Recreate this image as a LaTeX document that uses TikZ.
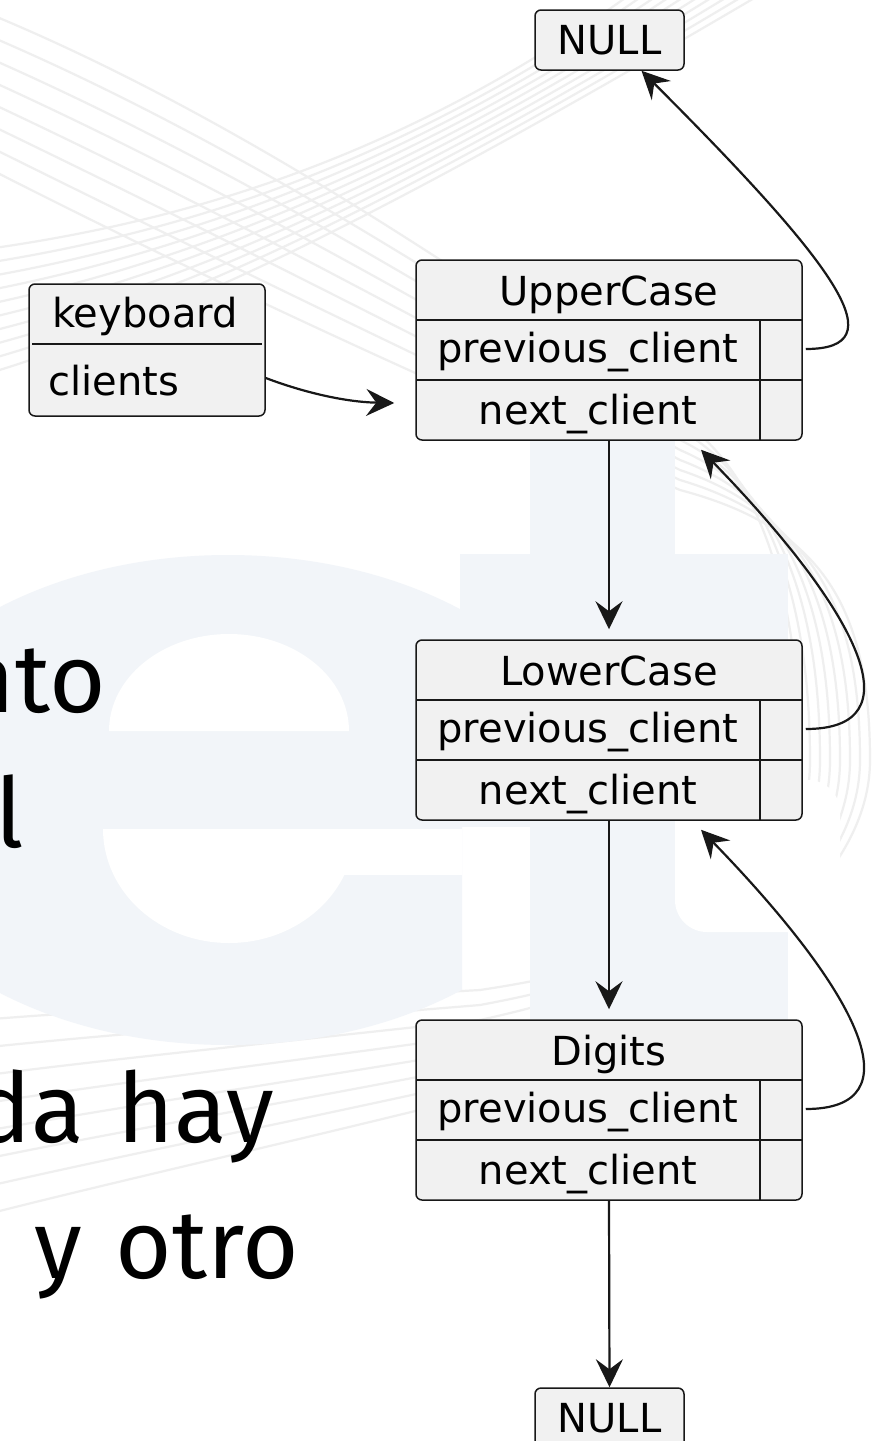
\documentclass[tikz,border=0pt]{standalone}
\usepackage{fontspec}
\setmainfont{DejaVu Sans}
\newfontfamily\slidefont[WordSpace=1.3]{Fira Sans}
\usetikzlibrary{arrows.meta}
\definecolor{boxfill}{HTML}{F1F1F1}
\definecolor{boxline}{HTML}{181818}
\definecolor{logoc}{HTML}{F2F5F9}
\definecolor{swirlc}{HTML}{EFEFEF}

% one linked-list client: name, top edge, title
\newcommand\clientobj[3]{%
  \node[objframe] (#1) at (609,#2+90) {};
  \draw[sep] (416,#2+60) -- (802,#2+60);
  \draw[sep] (416,#2+120) -- (802,#2+120);
  \draw[sep] (760,#2+60) -- (760,#2+180);
  \node[lbl] (#1-title) at (609,#2+45) {#3};
  \node[lbl] (#1-prev) at (588,#2+102) {previous\_client};
  \node[lbl] (#1-next) at (588,#2+164) {next\_client};
}

\begin{document}
\begin{tikzpicture}[x=1pt,y=-1pt,
  objframe/.style={draw=boxline, fill=boxfill, line width=1.5pt, rounded corners=6pt,
    inner sep=0pt, minimum width=386pt, minimum height=180pt},
  nullframe/.style={draw=boxline, fill=boxfill, line width=1.5pt, rounded corners=6pt,
    inner sep=0pt, minimum width=149pt, minimum height=60pt},
  kbframe/.style={draw=boxline, fill=boxfill, line width=1.5pt, rounded corners=6pt,
    inner sep=0pt, minimum width=236pt, minimum height=132pt},
  lbl/.style={anchor=base, inner sep=0pt, text=black, font=\fontsize{40}{48}\selectfont},
  sep/.style={draw=boxline, line width=2.6pt},
  thinsep/.style={draw=boxline, line width=1.4pt},
  arr/.style={draw=boxline, line width=2.2pt, -{Stealth[length=28pt,width=27pt,inset=10pt]}},
  slide/.style={anchor=base east, inner sep=0pt, text=black, font=\slidefont\fontsize{97}{116}\selectfont},
  swirl/.style={draw=swirlc, line width=2.2pt},
]
\useasboundingbox (0,0) rectangle (873,1441);

% ---- slide background ----
\begin{scope}
  \clip (0,0) rectangle (873,1441);
  \fill[white] (0,0) rectangle (873,1441);
  % swirl lines
  \foreach \k in {0,...,9} {
    \draw[swirl] (-20,250+14*\k) .. controls (200,220+10*\k) and (420,150+5*\k) .. (650+15*\k,-20);
  }
  \foreach \k in {0,...,7} {
    \draw[swirl] (-20,10+22*\k) .. controls (250,120+26*\k) and (500,300+16*\k) .. (680,420+10*\k)
      .. controls (760+8*\k,470+8*\k) and (800+10*\k,600) .. (800+10*\k,760)
      .. controls (800+10*\k,900) and (680,960+8*\k) .. (480,990+15*\k)
      .. controls (300,1000+20*\k) and (100,1010+25*\k) .. (-20,1020+28*\k);
  }
  % "e" of the logo
  \begin{scope}
    \clip (-10,0) rectangle (462,1441);
    \fill[logoc] (228,800) ellipse [x radius=370pt, y radius=245pt];
  \end{scope}
  \fill[white] (109,731) arc[start angle=180, end angle=0, x radius=120pt, y radius=97pt] -- cycle;
  \fill[white] (103,829) arc[start angle=180, end angle=360, x radius=126pt, y radius=114pt] -- cycle;
  \fill[white] (229,829) rectangle (462,875);
  % "t" of the logo
  \fill[logoc] (530,300) rectangle (675,1190);
  \fill[logoc] (460,554) rectangle (788,827);
  \fill[logoc] (530,827) rectangle (788,1190);
  \fill[white, rounded corners=32pt] (675,780) rectangle (840,932);
  % slide text
  \node[slide] (s1) at (106,712) {nto};
  \node[slide] (s2) at (24,847) {l};
  \node[slide] (s3) at (274,1142) {da hay};
  \node[slide] (s4) at (299,1278) {o y otro};
\end{scope}

% ---- objects ----
\node[nullframe] (N1) at (609.5,40) {};
\node[lbl] (N1-t) at (609.5,54) {NULL};

\node[kbframe] (kb) at (147,350) {};
\draw[thinsep] (32,344) -- (262,344);
\node[lbl] (kb-title) at (145,327) {keyboard};
\node[lbl, anchor=base west] (kb-clients) at (48,395) {clients};

\clientobj{U}{260}{UpperCase}
\clientobj{L}{640}{LowerCase}
\clientobj{D}{1020}{Digits}

\node[nullframe] (N2) at (609.5,1418) {};
\node[lbl] (N2-t) at (609.5,1432) {NULL};

% ---- links ----
\draw[arr] ([yshift=-28pt]kb.east) .. controls +(37,14) and +(-50,-1) .. ([xshift=-21pt,yshift=-53pt]U.west);
\draw[arr, shorten >=10pt] (U.south) -- (L.north);
\draw[arr, shorten >=10pt] (L.south) -- (D.north);
\draw[arr] (D.south) -- (N2.north);
\draw[arr] ([xshift=3pt,yshift=1pt]U.east) .. controls +(90,0) and +(200,200) .. ([xshift=32pt]N1.south);
\draw[arr] ([xshift=3pt,yshift=1pt]L.east) .. controls +(110,0) and +(161,166) .. ([xshift=92pt,yshift=-9pt]U.south);
\draw[arr] ([xshift=3pt,yshift=1pt]D.east) .. controls +(110,0) and +(161,166) .. ([xshift=92pt,yshift=-9pt]L.south);
\end{tikzpicture}
\end{document}
